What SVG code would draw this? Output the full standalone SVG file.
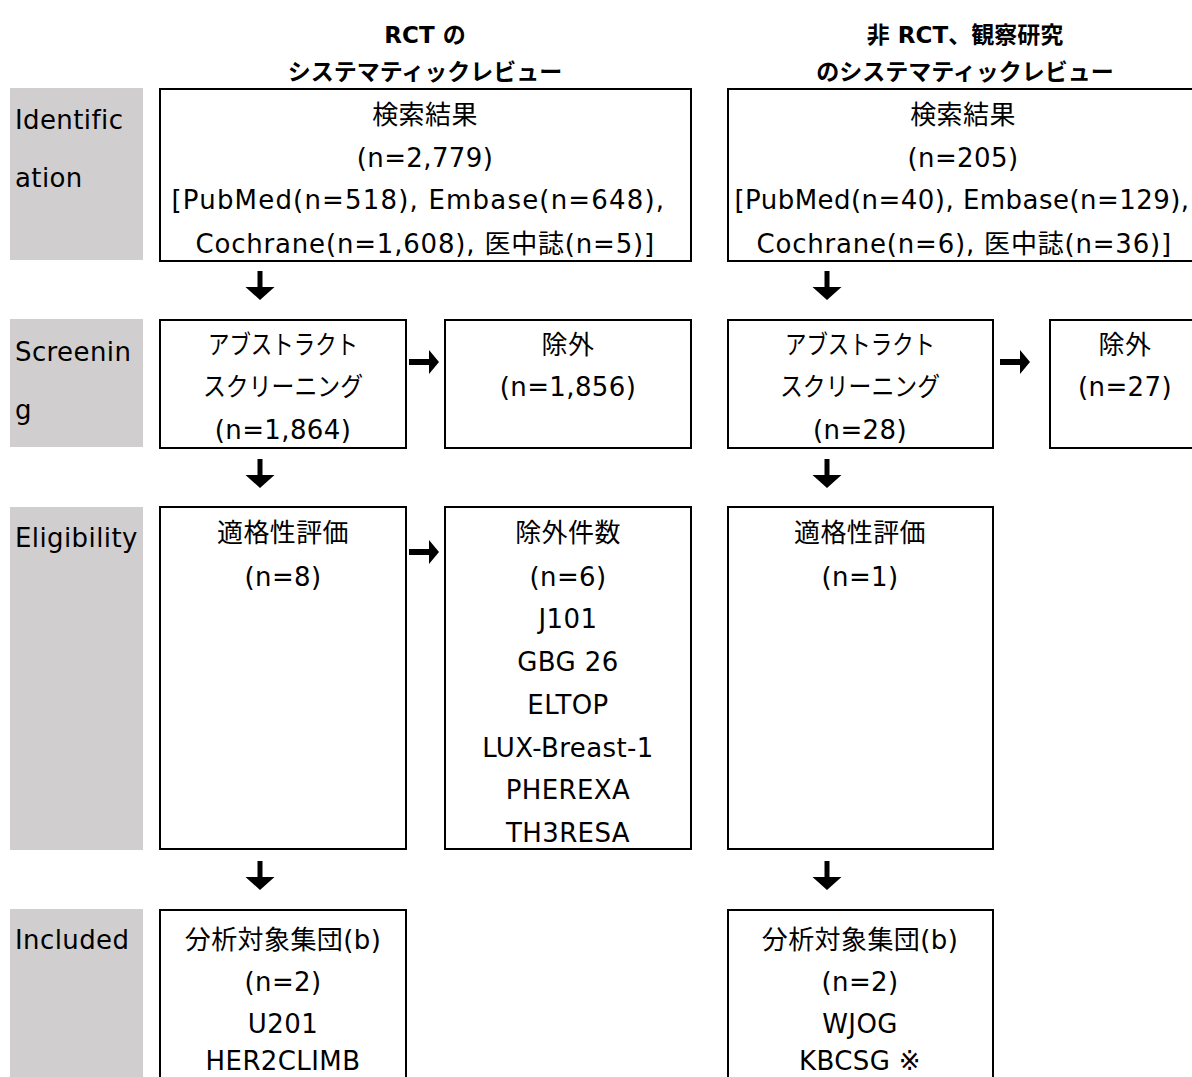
<svg xmlns="http://www.w3.org/2000/svg" width="1192" height="1077" viewBox="0 0 1192 1077">
<style>
.lab{fill:#d0cece}
.box{fill:#fff;stroke:#000;stroke-width:2}
text{font-family:"DejaVu Sans","Noto Sans CJK JP",sans-serif;font-size:26px;letter-spacing:0.4px;fill:#000}
.c{text-anchor:middle}
.h{font-weight:bold;font-size:23px;letter-spacing:0}
.k{letter-spacing:0}
.arr{fill:#000}
</style>
<rect width="1192" height="1077" fill="#fff"/>
<g id="headers">
<text class="c h" x="425" y="43">RCT の</text>
<text class="c h" x="425" y="80">システマティックレビュー</text>
<text class="c h" x="965" y="43">非 RCT、観察研究</text>
<text class="c h" x="965" y="80">のシステマティックレビュー</text>
</g>
<g id="stage-identification">
<rect class="lab" x="10" y="88" width="133" height="172"/>
<text x="15" y="129">Identific</text>
<text x="15" y="187">ation</text>
</g>
<g id="stage-screening">
<rect class="lab" x="10" y="319" width="133" height="128"/>
<text x="15" y="361">Screenin</text>
<text x="15" y="419">g</text>
</g>
<g id="stage-eligibility">
<rect class="lab" x="10" y="507" width="133" height="343"/>
<text x="15" y="547">Eligibility</text>
</g>
<g id="stage-included">
<rect class="lab" x="10" y="909" width="133" height="170"/>
<text x="15" y="949">Included</text>
</g>
<g id="rct-search">
<rect class="box" x="160" y="89" width="531" height="172"/>
<text class="c" x="425" y="124">検索結果</text>
<text class="c" x="425" y="167">(n=2,779)</text>
<text class="c" x="418" y="209" textLength="493">[PubMed(n=518), Embase(n=648),</text>
<text class="c" x="425" y="253" textLength="459">Cochrane(n=1,608), 医中誌(n=5)]</text>
</g>
<g id="obs-search">
<rect class="box" x="728" y="89" width="480" height="172"/>
<text class="c" x="963" y="124">検索結果</text>
<text class="c" x="963" y="167">(n=205)</text>
<text class="c" x="962" y="209" textLength="455">[PubMed(n=40), Embase(n=129),</text>
<text class="c" x="964" y="253" textLength="415">Cochrane(n=6), 医中誌(n=36)]</text>
</g>
<g id="rct-screen">
<rect class="box" x="160" y="320" width="246" height="128"/>
<text class="c k" x="283" y="354" textLength="150" lengthAdjust="spacingAndGlyphs">アブストラクト</text>
<text class="c k" x="283" y="396" textLength="160" lengthAdjust="spacingAndGlyphs">スクリーニング</text>
<text class="c" x="283" y="439">(n=1,864)</text>
</g>
<g id="rct-excl1">
<rect class="box" x="445" y="320" width="246" height="128"/>
<text class="c" x="568" y="354">除外</text>
<text class="c" x="568" y="396">(n=1,856)</text>
</g>
<g id="obs-screen">
<rect class="box" x="728" y="320" width="265" height="128"/>
<text class="c k" x="860" y="354" textLength="150" lengthAdjust="spacingAndGlyphs">アブストラクト</text>
<text class="c k" x="860" y="396" textLength="160" lengthAdjust="spacingAndGlyphs">スクリーニング</text>
<text class="c" x="860" y="439">(n=28)</text>
</g>
<g id="obs-excl1">
<rect class="box" x="1050" y="320" width="160" height="128"/>
<text class="c" x="1125" y="354">除外</text>
<text class="c" x="1125" y="396">(n=27)</text>
</g>
<g id="rct-elig">
<rect class="box" x="160" y="507" width="246" height="342"/>
<text class="c" x="283" y="542">適格性評価</text>
<text class="c" x="283" y="586">(n=8)</text>
</g>
<g id="rct-excl2">
<rect class="box" x="445" y="507" width="246" height="342"/>
<text class="c" x="568" y="542">除外件数</text>
<text class="c" x="568" y="586">(n=6)</text>
<text class="c" x="568" y="628">J101</text>
<text class="c" x="568" y="671">GBG 26</text>
<text class="c" x="568" y="714">ELTOP</text>
<text class="c" x="568" y="757">LUX-Breast-1</text>
<text class="c" x="568" y="799">PHEREXA</text>
<text class="c" x="568" y="842">TH3RESA</text>
</g>
<g id="obs-elig">
<rect class="box" x="728" y="507" width="265" height="342"/>
<text class="c" x="860" y="542">適格性評価</text>
<text class="c" x="860" y="586">(n=1)</text>
</g>
<g id="rct-incl">
<rect class="box" x="160" y="910" width="246" height="180"/>
<text class="c" x="283" y="949">分析対象集団(b)</text>
<text class="c" x="283" y="991">(n=2)</text>
<text class="c" x="283" y="1033">U201</text>
<text class="c" x="283" y="1070">HER2CLIMB</text>
</g>
<g id="obs-incl">
<rect class="box" x="728" y="910" width="265" height="180"/>
<text class="c" x="860" y="949">分析対象集団(b)</text>
<text class="c" x="860" y="991">(n=2)</text>
<text class="c" x="860" y="1033">WJOG</text>
<text class="c" x="860" y="1070">KBCSG ※</text>
</g>
<g id="connectors">
<defs>
<path id="ad" d="M-2.5,0 h5 v16 h12 l-14.5,13 l-14.5,-13 h12 z"/>
<path id="ar" d="M0,-3 h20 v-9 l10,12 l-10,12 v-9 h-20 z"/>
</defs>
<use href="#ad" class="arr" x="260" y="271"/>
<use href="#ad" class="arr" x="260" y="459"/>
<use href="#ad" class="arr" x="260" y="861"/>
<use href="#ad" class="arr" x="827" y="271"/>
<use href="#ad" class="arr" x="827" y="459"/>
<use href="#ad" class="arr" x="827" y="861"/>
<use href="#ar" class="arr" x="409" y="362"/>
<use href="#ar" class="arr" x="409" y="552"/>
<use href="#ar" class="arr" x="1000" y="362"/>
</g>
</svg>
